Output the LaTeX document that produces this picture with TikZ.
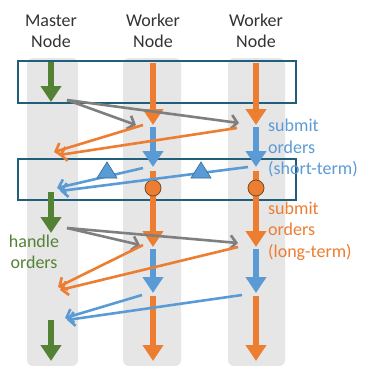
\documentclass[tikz,border=0pt]{standalone}
\usepackage{fontspec}
\setmainfont{Carlito}
\usetikzlibrary{arrows.meta}
\definecolor{lane}{HTML}{E6E6E6}
\definecolor{frame}{HTML}{215E79}
\definecolor{ordorange}{HTML}{ED7D31}
\definecolor{ordblue}{HTML}{5B9BD5}
\definecolor{ordgreen}{HTML}{548235}
\definecolor{msggray}{HTML}{7F7F7F}
\tikzset{
  lanebox/.style={fill=lane, draw=none, rounded corners=6pt},
  phase/.style={draw=frame, line width=2.4pt},
  bigarrow/.style={line width=5.5pt, -{Triangle[length=16pt,width=20pt]}},
  msg/.style={line width=2.6pt, -{Straight Barb[length=6pt,width=14pt]}},
  title/.style={font=\fontsize{18}{21}\selectfont, align=center, text=black!80},
  note/.style={font=\fontsize{18}{21.5}\selectfont, align=left, inner sep=0pt},
  marker/.style={fill=ordblue, draw=frame!70!ordblue, line width=0.6pt},
  commit/.style={circle, fill=ordorange, draw=brown!60!black, line width=0.8pt, minimum size=16pt, inner sep=0pt}
}
\begin{document}
\begin{tikzpicture}[x=1pt,y=-1pt]
\useasboundingbox (0,0) rectangle (367,365);
% lanes
\fill[lanebox] (27,58) rectangle (78,366);
\fill[lanebox] (123,58) rectangle (181,366);
\fill[lanebox] (228,58) rectangle (285,366);
% headers
\node[title] (hm) at (51,31) {Master\\Node};
\node[title] (hw1) at (153,31) {Worker\\Node};
\node[title] (hw2) at (256,31) {Worker\\Node};
% phase frames
\draw[phase] (18,61) rectangle (296,103);
\draw[phase] (18,159) rectangle (296,200);
% key points
\coordinate (m0) at (51,62);  \coordinate (m1) at (51,102);
\coordinate (m2) at (51,192); \coordinate (m3) at (51,233);
\coordinate (m4) at (51,320); \coordinate (m5) at (51,361);
\coordinate (a0) at (153,63);  \coordinate (a1) at (153,125);
\coordinate (a2) at (153,127); \coordinate (a3) at (153,167);
\coordinate (a4) at (153,171); \coordinate (a5) at (153,247);
\coordinate (a6) at (153,249); \coordinate (a7) at (153,293);
\coordinate (a8) at (153,296); \coordinate (a9) at (153,361);
\coordinate (b0) at (256,63);  \coordinate (b1) at (256,125);
\coordinate (b2) at (256,127); \coordinate (b3) at (256,167);
\coordinate (b4) at (256,171); \coordinate (b5) at (256,247);
\coordinate (b6) at (256,249); \coordinate (b7) at (256,293);
\coordinate (b8) at (256,296); \coordinate (b9) at (256,361);
% thick per-node activity arrows
\draw[bigarrow, ordgreen] (m0) -- (m1);
\draw[bigarrow, ordgreen] (m2) -- (m3);
\draw[bigarrow, ordgreen] (m4) -- (m5);
\draw[bigarrow, ordorange] (a0) -- (a1);
\draw[bigarrow, ordorange] (b0) -- (b1);
\draw[bigarrow, ordblue] (a2) -- (a3);
\draw[bigarrow, ordblue] (b2) -- (b3);
\draw[bigarrow, ordorange] (a4) -- (a5);
\draw[bigarrow, ordorange] (b4) -- (b5);
\draw[bigarrow, ordblue] (a6) -- (a7);
\draw[bigarrow, ordblue] (b6) -- (b7);
\draw[bigarrow, ordorange] (a8) -- (a9);
\draw[bigarrow, ordorange] (b8) -- (b9);
% commit points
\node[commit] (ca) at (153,188) {};
\node[commit] (cb) at (256,188) {};
% first round of messages
\coordinate (g1s) at (67,100);
\coordinate (g1a) at (136,125); \coordinate (g1b) at (239,123);
\draw[msg, msggray] (g1s) -- (g1a);
\draw[msg, msggray] (g1s) -- (g1b);
\coordinate (o1a) at (143,125); \coordinate (o1at) at (54,152);
\coordinate (o1b) at (237,128); \coordinate (o1bt) at (59,155);
\draw[msg, ordorange] (o1a) -- (o1at);
\draw[msg, ordorange] (o1b) -- (o1bt);
\coordinate (s1a) at (143,168); \coordinate (s1at) at (57,188);
\coordinate (s1b) at (248,167); \coordinate (s1bt) at (60,191);
\draw[msg, ordblue] (s1a) -- (s1at);
\draw[msg, ordblue] (s1b) -- (s1bt);
% second round of messages
\coordinate (g2s) at (67,228);
\coordinate (g2a) at (140,245); \coordinate (g2b) at (238,243);
\draw[msg, msggray] (g2s) -- (g2a);
\draw[msg, msggray] (g2s) -- (g2b);
\coordinate (o2a) at (143,245); \coordinate (o2at) at (58,287);
\coordinate (o2b) at (238,247); \coordinate (o2bt) at (60,290);
\draw[msg, ordorange] (o2a) -- (o2at);
\draw[msg, ordorange] (o2b) -- (o2bt);
\coordinate (s2a) at (142,295); \coordinate (s2at) at (65,318);
\coordinate (s2b) at (242,295); \coordinate (s2bt) at (67,320);
\draw[msg, ordblue] (s2a) -- (s2at);
\draw[msg, ordblue] (s2b) -- (s2bt);
% short-term markers
\draw[marker] (97,178) -- (107,162) -- (117,178) -- cycle;
\draw[marker] (191,178) -- (201,162) -- (211,178) -- cycle;
% annotations
\node[note, text=ordblue, anchor=west] (ns) at (268,148) {submit\\orders\\(short-term)};
\node[note, text=ordorange, anchor=west] (nl) at (268,231) {submit\\orders\\(long-term)};
\node[note, text=ordgreen, align=center] (nh) at (34,252) {handle\\orders};
\end{tikzpicture}
\end{document}
